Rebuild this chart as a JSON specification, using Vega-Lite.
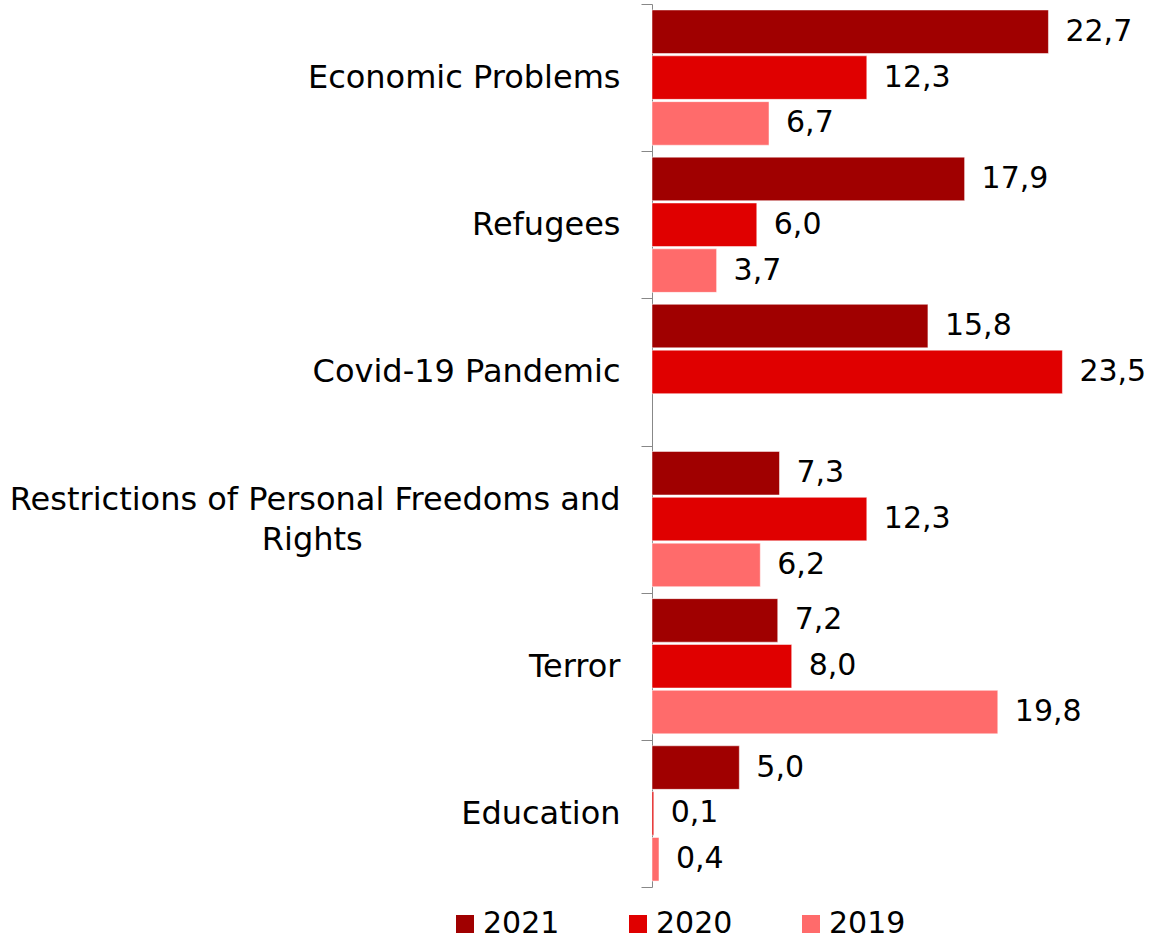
{
  "$schema": "https://vega.github.io/schema/vega-lite/v6.json",
  "autosize": "none",
  "width": 489,
  "height": 883,
  "padding": {"left": 652, "top": 4, "right": 9, "bottom": 52},
  "background": "white",
  "config": {
    "view": {"stroke": null},
    "font": "DejaVu Sans",
    "text": {"font": "DejaVu Sans"}
  },
  "data": {
    "values": [
      {"category": "Economic Problems", "year": "2021", "value": 22.7, "label": "22,7"},
      {"category": "Economic Problems", "year": "2020", "value": 12.3, "label": "12,3"},
      {"category": "Economic Problems", "year": "2019", "value": 6.7, "label": "6,7"},
      {"category": "Refugees", "year": "2021", "value": 17.9, "label": "17,9"},
      {"category": "Refugees", "year": "2020", "value": 6.0, "label": "6,0"},
      {"category": "Refugees", "year": "2019", "value": 3.7, "label": "3,7"},
      {"category": "Covid-19 Pandemic", "year": "2021", "value": 15.8, "label": "15,8"},
      {"category": "Covid-19 Pandemic", "year": "2020", "value": 23.5, "label": "23,5"},
      {"category": "Restrictions of Personal Freedoms and Rights", "year": "2021", "value": 7.3, "label": "7,3"},
      {"category": "Restrictions of Personal Freedoms and Rights", "year": "2020", "value": 12.3, "label": "12,3"},
      {"category": "Restrictions of Personal Freedoms and Rights", "year": "2019", "value": 6.2, "label": "6,2"},
      {"category": "Terror", "year": "2021", "value": 7.2, "label": "7,2"},
      {"category": "Terror", "year": "2020", "value": 8.0, "label": "8,0"},
      {"category": "Terror", "year": "2019", "value": 19.8, "label": "19,8"},
      {"category": "Education", "year": "2021", "value": 5.0, "label": "5,0"},
      {"category": "Education", "year": "2020", "value": 0.1, "label": "0,1"},
      {"category": "Education", "year": "2019", "value": 0.4, "label": "0,4"}
    ]
  },
  "encoding": {
    "y": {
      "field": "category",
      "type": "nominal",
      "sort": ["Economic Problems", "Refugees", "Covid-19 Pandemic", "Restrictions of Personal Freedoms and Rights", "Terror", "Education"],
      "scale": {"paddingInner": 0, "paddingOuter": 0},
      "axis": {
        "title": null,
        "tickBand": "extent",
        "domainColor": "#888888",
        "tickColor": "#888888",
        "tickSize": 11,
        "labelPadding": 21,
        "labelFontSize": 32,
        "labelFont": "DejaVu Sans",
        "labelColor": "#000000",
        "labelLimit": 700,
        "labelLineHeight": 40,
        "labelOffset": {"condition": {"test": "datum.value == 'Restrictions of Personal Freedoms and Rights'", "value": -20}, "value": 0},
        "labelExpr": "datum.label == 'Restrictions of Personal Freedoms and Rights' ? ['Restrictions of Personal Freedoms and', 'Rights\u2800\u2800\u2800\u2800\u2800\u2800\u2800\u2800\u2800\u2800\u2800'] : datum.label"
      }
    },
    "yOffset": {
      "field": "year",
      "type": "nominal",
      "sort": ["2021", "2020", "2019"],
      "scale": {"paddingInner": 0.05, "paddingOuter": 0.13}
    },
    "x": {
      "field": "value",
      "type": "quantitative",
      "scale": {"domain": [0, 28], "nice": false, "zero": true},
      "axis": null
    }
  },
  "layer": [
    {
      "mark": {"type": "bar", "stroke": "#ffffff", "strokeWidth": 0.5},
      "encoding": {
        "color": {
          "field": "year",
          "type": "nominal",
          "scale": {"domain": ["2021", "2020", "2019"], "range": ["#a00000", "#e00000", "#ff6b6b"]},
          "legend": {
            "title": null,
            "orient": "none",
            "direction": "horizontal",
            "legendX": -202,
            "legendY": 905,
            "symbolType": "square",
            "symbolSize": 324,
            "symbolStrokeWidth": 0,
            "labelFontSize": 30,
            "labelFont": "DejaVu Sans",
            "labelColor": "#000000",
            "labelOffset": 3,
            "columnPadding": 63
          }
        }
      }
    },
    {
      "mark": {"type": "text", "align": "left", "baseline": "middle", "dx": 17, "fontSize": 30, "font": "DejaVu Sans", "color": "#000000"},
      "encoding": {
        "text": {"field": "label"}
      }
    }
  ]
}
